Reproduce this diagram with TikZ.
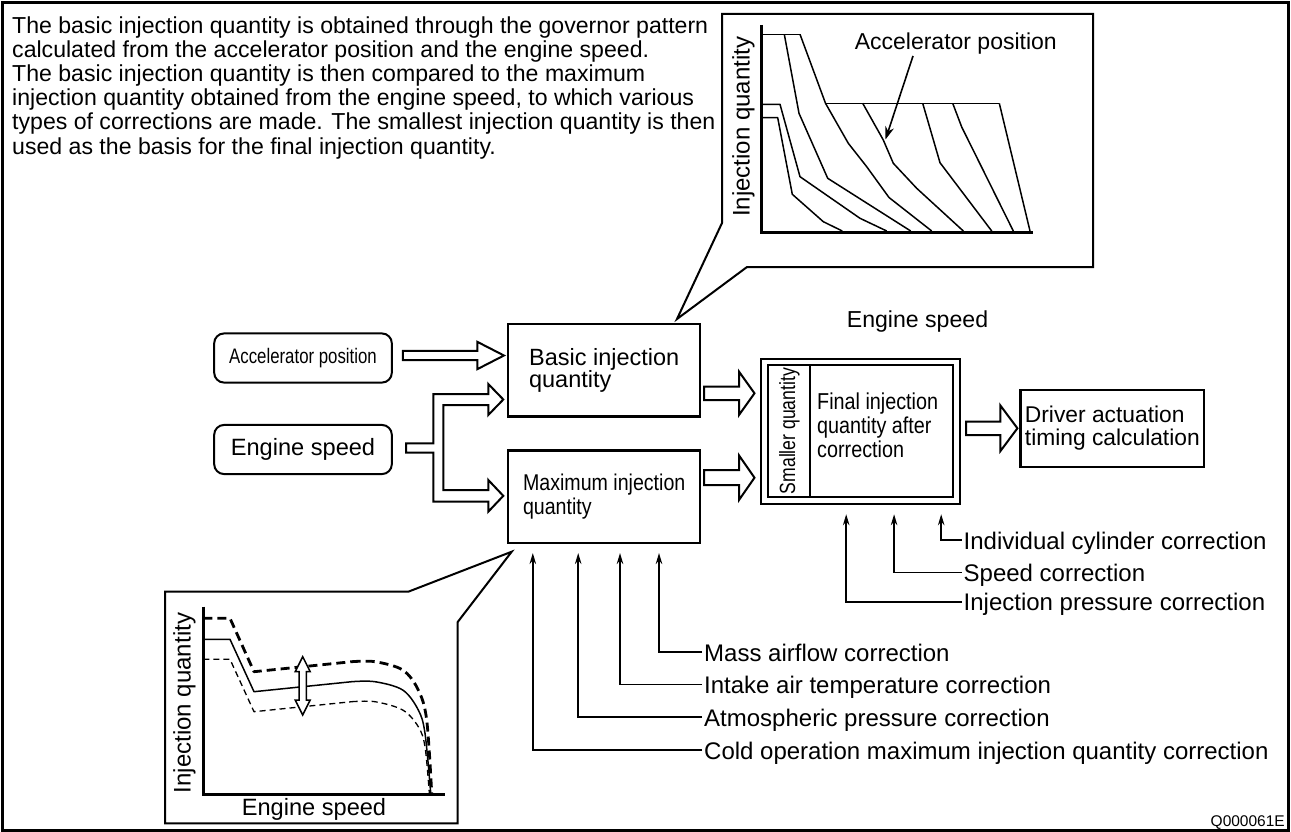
\documentclass[tikz,border=0pt]{standalone}
\usepackage{fontspec}
\setmainfont{Liberation Sans}
\newfontfamily\condA{Liberation Sans}[FakeStretch=0.80]
\newfontfamily\condB{Liberation Sans}[FakeStretch=0.86]
\usetikzlibrary{arrows.meta,calc}
\lineskiplimit=-100pt
\newcommand\fsz[2]{\fontsize{#1}{#2}\selectfont}
% hollow horizontal arrow: start, tip, shaft half width, head half width, head length
\newcommand\harr[5]{%
  \draw[hollow] let \p1=(#1), \p2=(#2) in
    (\x1,\y1+#3pt) -- (\x2-#5pt,\y1+#3pt) -- (\x2-#5pt,\y1+#4pt) -- (\x2,\y1)
    -- (\x2-#5pt,\y1-#4pt) -- (\x2-#5pt,\y1-#3pt) -- (\x1,\y1-#3pt) -- cycle;}
\tikzset{
  box/.style={draw, line width=2.2pt, minimum width=191.7pt, minimum height=92.5pt, inner sep=0pt, align=left},
  rbox/.style={draw, line width=2pt, rounded corners=10pt, minimum width=177.7pt, minimum height=49.2pt, inner sep=0pt},
  hollow/.style={draw, line width=2pt, fill=white, line join=miter},
  callout/.style={draw, line width=2pt, fill=white, line join=miter},
  axis/.style={line width=3pt, line cap=butt, line join=miter},
  curve/.style={line width=1.5pt, line join=round},
  corr/.style={-{Stealth[length=11pt,width=6.5pt]}, line width=1.6pt},
  lbl/.style={anchor=west, inner xsep=2pt, inner ysep=0pt, text height=18pt, text depth=0pt, font=\fsz{24}{24}},
}
\begin{document}
\begin{tikzpicture}[x=1pt,y=-1pt]
\useasboundingbox (0,0) rectangle (1291,832);
% outer frame
\draw[line width=2.5pt] (2.3,2.6) rectangle (1288.4,830.5);

% introductory text
\node[anchor=north west, align=left, inner sep=0pt, font=\fsz{23.1}{24.2}] (para) at (12,16.1)
 {The basic injection quantity is obtained through the governor pattern\\
  calculated from the accelerator position and the engine speed.\\
  The basic injection quantity is then compared to the maximum\\
  injection quantity obtained from the engine speed, to which various\\
  types of corrections are made. The smallest injection quantity is then\\
  used as the basis for the final injection quantity.};

% ---------- top callout: governor pattern ----------
\draw[callout] (722,14) -- (1093,14) -- (1093,267) -- (747,267) -- (677,319) -- (722,223) -- cycle;
\draw[axis] (761.7,25) -- (761.7,232) -- (1033,232);
\draw[curve] (761.7,34.3) -- (800,34.3);
\draw[curve] (784.3,34.3) -- (799,113.3) -- (827.7,178.3) -- (910.7,231);
\draw[curve] (800,34.3) -- (825.5,103.3) -- (848.3,143.3) -- (866.7,166.7) -- (889,197.5) -- (931.7,231);
\draw[curve] (761.7,117.7) -- (777.7,117.7) -- (792.3,194.3) -- (823.3,221.7) -- (842.3,231);
\draw[curve] (761.7,104.3) -- (780,104.3) -- (800,176.7) -- (860,218.3) -- (886.7,231);
\draw[curve] (825.5,103.3) -- (999.3,103.3);
\draw[curve] (862.7,103.3) -- (883.3,140) -- (893.3,163.3) -- (916.7,188.3) -- (963.3,231);
\draw[curve] (922.7,103.3) -- (940,162.7) -- (991.7,231);
\draw[curve] (952.7,103.3) -- (961.7,127) -- (1013.3,231);
\draw[curve] (999.3,103.3) -- (1030,231);
\node[rotate=90, anchor=base, inner sep=0pt, font=\fsz{24}{24}] (gyl) at (749.5,126.7) {Injection quantity};
\node[anchor=base, inner sep=0pt, font=\fsz{23}{23}] (aplabel) at (955.8,50) {Accelerator position};
\coordinate (aptip) at (885.5,139.5);
\draw[-{Stealth[length=13pt,width=9pt]}, line width=1.6pt] ($(aplabel.south)+(-42.8,1)$) -- (aptip);

% ---------- bottom callout: maximum injection quantity ----------
\draw[callout] (165,591.7) -- (408.3,591.7) -- (511.7,551.7) -- (457.7,622) -- (457.7,823.3) -- (165,823.3) -- cycle;
\draw[axis] (203.3,606.7) -- (203.3,794) -- (445,794);
\draw[line width=2.8pt, dash pattern=on 9pt off 5pt, line join=round]
  (203.3,618.3) -- (230,618.3) -- (254,671.7) -- (351.7,661.7)
  plot[smooth, tension=0.55] coordinates {(351.7,661.7) (375,661.7) (402.7,670) (418.3,690) (426.7,720) (431.7,793)};
\draw[curve]
  (203.3,639.3) -- (230,639.3) -- (254,691.7) -- (351.7,681.7)
  plot[smooth, tension=0.55] coordinates {(351.7,681.7) (375,681.7) (402.7,690) (418.3,710) (425,733.3) (430.7,793)};
\draw[line width=1.3pt, dash pattern=on 6pt off 4pt, line join=round]
  (203.3,659.3) -- (230,659.3) -- (254,711.7) -- (351.7,701.7)
  plot[smooth, tension=0.55] coordinates {(351.7,701.7) (375,701.7) (402.7,710) (418.3,726.7) (425,746.7) (429.3,793)};
\draw[line width=1.5pt, fill=white, line join=miter]
  (302.7,656.7) -- (310.2,671.7) -- (306.4,671.7) -- (306.4,700) -- (310.2,700) -- (302.7,715)
  -- (295.2,700) -- (299,700) -- (299,671.7) -- (295.2,671.7) -- cycle;
\node[rotate=90, anchor=base, inner sep=0pt, font=\fsz{24}{24}] (byl) at (190.5,703) {Injection quantity};
\node[anchor=base, inner sep=0pt, font=\fsz{23.6}{23.6}] (bxl) at (314,815) {Engine speed};

% ---------- main blocks ----------
\node[rbox, font=\condA\fsz{21}{21}] (acc) at (303,358) {Accelerator position};
\node[rbox, font=\fsz{23.6}{23.6}] (eng) at (303,449.5) {Engine speed};
\node[box, font=\fsz{23.5}{21.5}] (basic) at (604.2,370.3) {Basic injection\\quantity};
\node[box, font=\condB\fsz{22.8}{23.4}] (max) at (604.2,496.7) {Maximum injection\\quantity};
\node[draw, line width=2pt, double, double distance=4.4pt, minimum width=192pt, minimum height=138.5pt, inner sep=0pt] (final) at (860.6,431.4) {};
\draw[line width=2pt] (810,365.3) -- (810,497.5);
\node[rotate=90, anchor=base, inner sep=0pt, font=\condA\fsz{22}{22}] (smq) at (795,431) {Smaller quantity};
\node[anchor=north west, align=left, inner sep=0pt, font=\condB\fsz{23}{24}] (fiq) at (817,392.7) {Final injection\\quantity after\\correction};
\node[draw, line width=2.2pt, minimum width=183.9pt, minimum height=76.7pt, inner sep=0pt, align=left, font=\fsz{22.8}{23.4}] (driver) at (1112.35,428.35) {Driver actuation\\timing calculation};
\node[inner sep=0pt, font=\fsz{23.1}{23.1}] (eslabel) at (917.5,322) {Engine speed};

% ---------- hollow arrows ----------
\harr{$(acc.east)+(10,-2.5)$}{$(basic.west)+(-3.3,0)$}{4.7}{13.7}{26.7}
\draw[hollow] (406,443.3) -- (433.3,443.3) -- (433.3,394) -- (488.3,394) -- (488.3,384) -- (503.3,399.5)
  -- (488.3,415) -- (488.3,405) -- (443.3,405) -- (443.3,490) -- (488.3,490) -- (488.3,480)
  -- (503.3,495.85) -- (488.3,511.7) -- (488.3,501.7) -- (433.3,501.7) -- (433.3,452.7) -- (406,452.7) -- cycle;
\harr{$(basic.east)+(3,23)$}{$(final.west)+(-9.1,0)$}{6.8}{21.7}{15.5}
\harr{$(max.east)+(3,-19)$}{$(final.west)+(-9.1,0)$}{7.5}{22.3}{15.5}
\harr{$(final.east)+(8.4,-3.1)$}{$(driver.west)+(-1.9,0)$}{6.7}{22.8}{17}

% ---------- corrections ----------
\node[lbl] (ind) at (961.5,540) {Individual cylinder correction};
\node[lbl] (spd) at (961.5,572.3) {Speed correction};
\node[lbl] (inj) at (961.5,601.7) {Injection pressure correction};
\draw[corr] (ind.west) -| ($(final.south)+(80.6,12.6)$);
\draw[corr] (spd.west) -| ($(final.south)+(33.5,12.6)$);
\draw[corr] (inj.west) -| ($(final.south)+(-14.4,12.6)$);

\node[lbl] (mass) at (702,652) {Mass airflow correction};
\node[lbl] (iat) at (702,684.5) {Intake air temperature correction};
\node[lbl] (atm) at (702,717) {Atmospheric pressure correction};
\node[lbl] (cold) at (702,750) {Cold operation maximum injection quantity correction};
\draw[corr] (mass.west) -| ($(max.south)+(54.8,9)$);
\draw[corr] (iat.west) -| ($(max.south)+(15.8,9)$);
\draw[corr] (atm.west) -| ($(max.south)+(-26,9)$);
\draw[corr] (cold.west) -| ($(max.south)+(-71.4,9)$);

\node[anchor=base east, inner sep=0pt, font=\fsz{15.5}{15.5}] (qid) at (1285,826) {Q000061E};
\end{tikzpicture}
\end{document}
